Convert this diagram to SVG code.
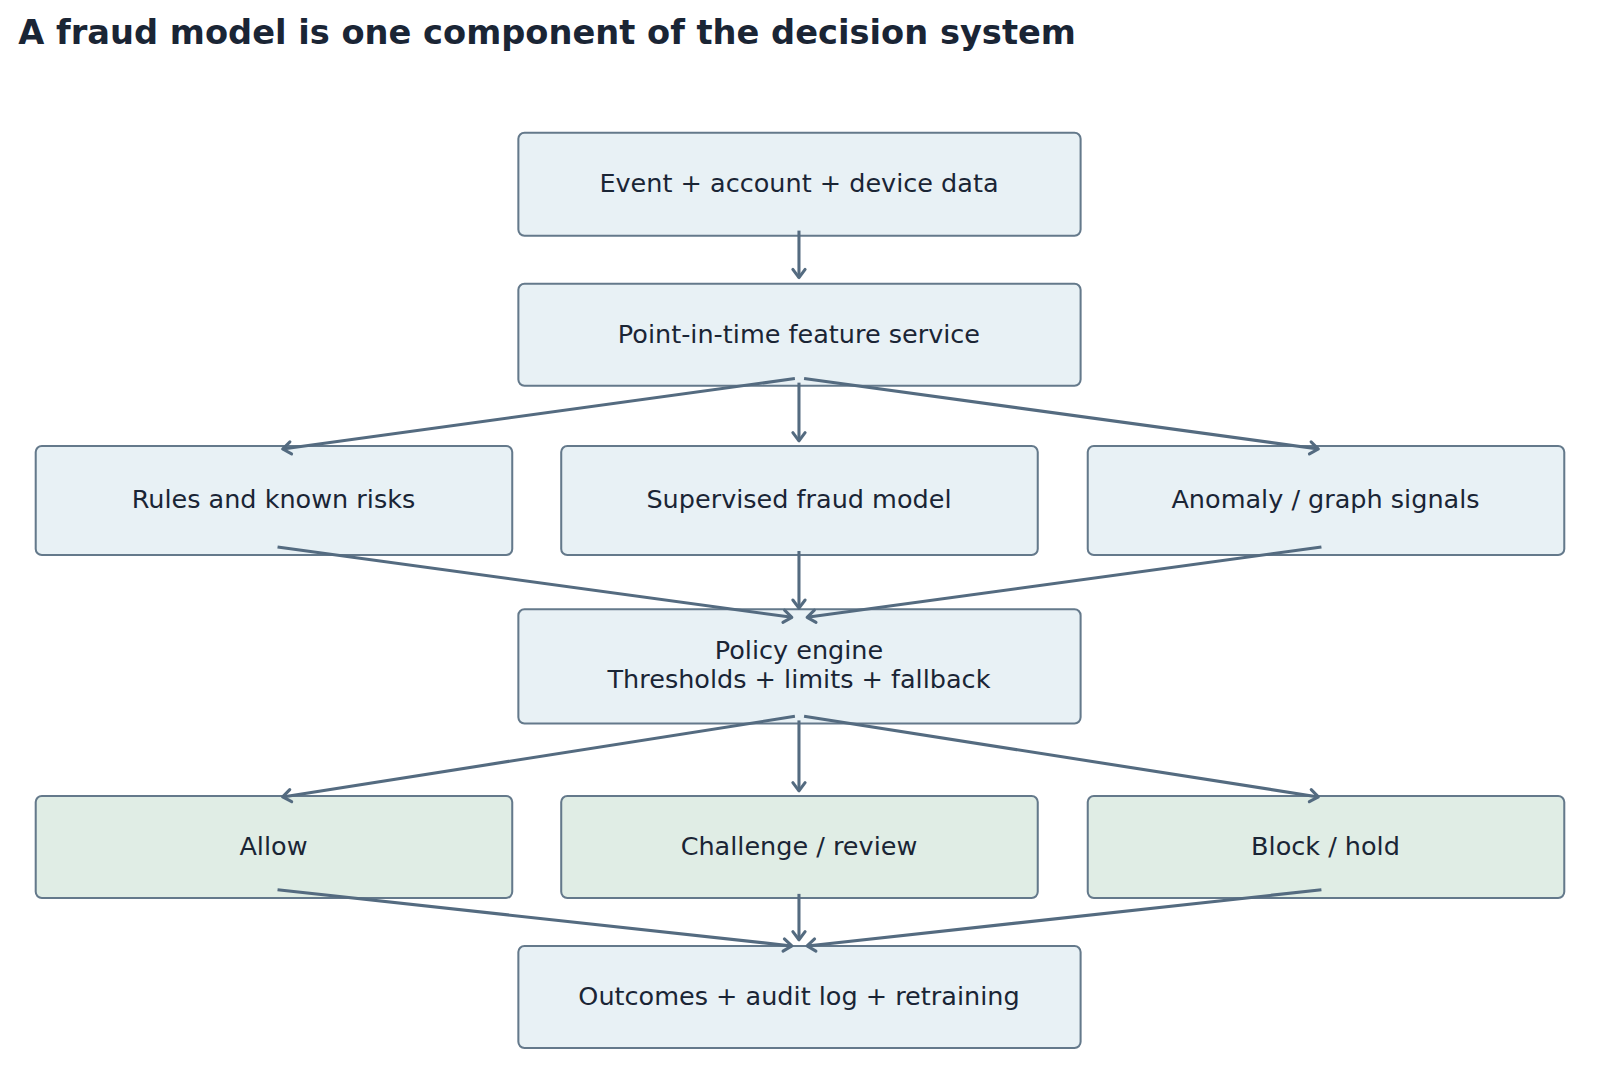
<svg xmlns="http://www.w3.org/2000/svg" width="1600" height="1089" viewBox="0 0 1600 1089">
<style>
.n{fill:#e8f1f5;stroke:#64798b;stroke-width:2}
.g{fill:#e0ede5;stroke:#64798b;stroke-width:2}
.t{font-family:"DejaVu Sans",sans-serif;font-size:25px;fill:#1a2535;text-anchor:middle}
.e{stroke:#546b80;stroke-width:3;fill:none;marker-end:url(#a)}
</style>
<defs><marker id="a" viewBox="0 0 10 14" refX="9" refY="7" markerWidth="10" markerHeight="14" orient="auto" markerUnits="userSpaceOnUse" style="overflow:visible"><path d="M1,1 L9,7 L1,13" fill="none" stroke="#546b80" stroke-width="3" stroke-linecap="round" stroke-linejoin="round"/></marker></defs>
<rect width="1600" height="1089" fill="#fff"/>
<g transform="scale(1.0204)">
<text x="18" y="43" font-family="DejaVu Sans,sans-serif" font-weight="bold" font-size="33" fill="#1a2535">A fraud model is one component of the decision system</text>
<g id="event"><rect class="n" x="508" y="130" width="551" height="101" rx="6"/><text class="t" x="783" y="188">Event + account + device data</text></g>
<g id="feature"><rect class="n" x="508" y="278" width="551" height="100" rx="6"/><text class="t" x="783" y="336">Point-in-time feature service</text></g>
<g id="rules"><rect class="n" x="35" y="437" width="467" height="107" rx="6"/><text class="t" x="268" y="498">Rules and known risks</text></g>
<g id="model"><rect class="n" x="550" y="437" width="467" height="107" rx="6"/><text class="t" x="783" y="498">Supervised fraud model</text></g>
<g id="anomaly"><rect class="n" x="1066" y="437" width="467" height="107" rx="6"/><text class="t" x="1299" y="498">Anomaly / graph signals</text></g>
<g id="policy"><rect class="n" x="508" y="597" width="551" height="112" rx="6"/><text class="t" x="783" y="646">Policy engine</text><text class="t" x="783" y="674">Thresholds + limits + fallback</text></g>
<g id="allow"><rect class="g" x="35" y="780" width="467" height="100" rx="6"/><text class="t" x="268" y="838">Allow</text></g>
<g id="challenge"><rect class="g" x="550" y="780" width="467" height="100" rx="6"/><text class="t" x="783" y="838">Challenge / review</text></g>
<g id="block"><rect class="g" x="1066" y="780" width="467" height="100" rx="6"/><text class="t" x="1299" y="838">Block / hold</text></g>
<g id="outcomes"><rect class="n" x="508" y="927" width="551" height="100" rx="6"/><text class="t" x="783" y="985">Outcomes + audit log + retraining</text></g>
<g id="edges">
<path class="e" d="M783,226 L783,272"/>
<path class="e" d="M779,371 L277,440"/>
<path class="e" d="M783,375 L783,432"/>
<path class="e" d="M788,371 L1292,440"/>
<path class="e" d="M272,536 L776,605"/>
<path class="e" d="M783,540 L783,596"/>
<path class="e" d="M1295,536 L791,605"/>
<path class="e" d="M779,702 L277,781"/>
<path class="e" d="M783,706 L783,775"/>
<path class="e" d="M788,702 L1292,781"/>
<path class="e" d="M272,872 L776,927"/>
<path class="e" d="M783,876 L783,921"/>
<path class="e" d="M1295,872 L791,927"/>
</g>
</g>
</svg>
